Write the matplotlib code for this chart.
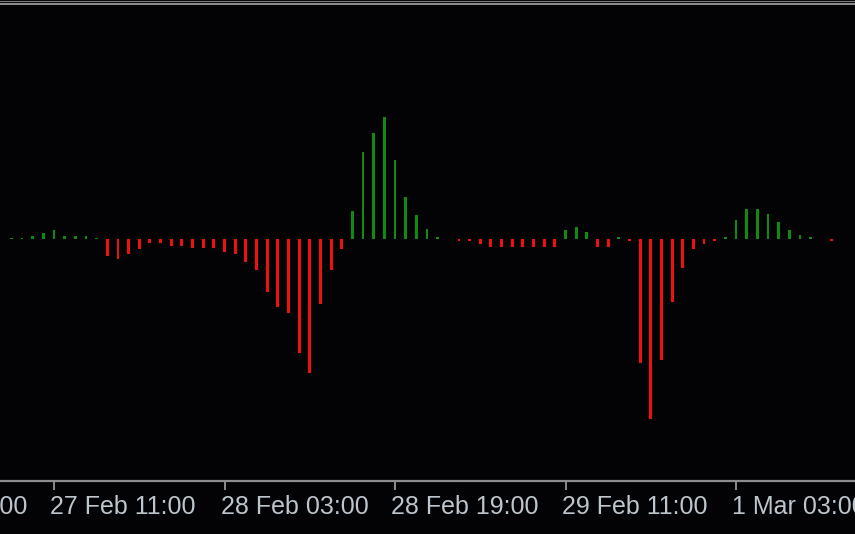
import matplotlib
matplotlib.use("Agg")
import matplotlib.pyplot as plt
from matplotlib.lines import Line2D
from matplotlib.transforms import ScaledTranslation

# Hourly bars starting 27 Feb 07:00 (index 0)
values = [
    1.5, 1.5, 3, 6, 9, 3, 3, 3, 1.5,
    -17, -20, -15, -10, -4, -4, -7, -7, -9, -9, -9,
    -13, -15, -23, -31, -53, -68, -74, -114, -134, -65, -31, -10,
    28, 87, 106, 122, 79, 42, 24, 10, 2,
    0, -2, -2, -5, -8, -8, -8, -8, -8, -8, -8,
    9, 12, 7, -8, -8, 2, -2,
    -124, -180, -121, -63, -29, -10, -5, -2,
    2, 19, 30, 30, 25, 17, 9, 4, 2,
    0, -2, 0,
]
tick_positions = [-12, 4, 20, 36, 52, 68]
tick_labels = ["26 Feb 19:00", "27 Feb 11:00", "28 Feb 03:00",
               "28 Feb 19:00", "29 Feb 11:00", "1 Mar 03:00"]

BG = "#030305"
GREEN = "#108a10"
RED = "#f01010"
GRAY = "#8c8c8c"
TXT = "#bcc4cc"

W, H, DPI = 855, 534, 100
fig = plt.figure(figsize=(W / DPI, H / DPI), dpi=DPI, facecolor=BG)

top_px, bot_px = 6, 481
ax = fig.add_axes([0, (H - bot_px) / H, 1, (bot_px - top_px) / H])
ax.set_facecolor(BG)

x0_px, step_px = 11.4, 10.656
ax.set_xlim(-x0_px / step_px, (W - x0_px) / step_px)
zero_px = 239.3
ax.set_ylim(-(bot_px - zero_px), zero_px - top_px)

xs = list(range(len(values)))
colors = [GREEN if v > 0 else RED for v in values]
ax.bar(xs, values, width=0.27, color=colors, linewidth=0)

for s in ["top", "left", "right"]:
    ax.spines[s].set_visible(False)
ax.spines["bottom"].set_color(GRAY)
ax.spines["bottom"].set_linewidth(1.6)
ax.set_yticks([])

ax.set_xticks([t for t in tick_positions if ax.get_xlim()[0] <= t <= ax.get_xlim()[1]])
ax.set_xticklabels([])
ax.tick_params(axis="x", direction="out", length=6.5, width=1.4, color=GRAY)

offset = ScaledTranslation(-4 / DPI, -14.5 / DPI, fig.dpi_scale_trans)
trans = ax.get_xaxis_transform() + offset
for pos, lab in zip(tick_positions, tick_labels):
    ax.text(pos, 0, lab, transform=trans, ha="left", va="top",
            color=TXT, fontsize=18, family="Liberation Sans", clip_on=False)

# window border lines at the top
fig.add_artist(Line2D([0, 1], [1 - 1.2 / H, 1 - 1.2 / H], transform=fig.transFigure,
                      color="#7a7a7a", linewidth=0.8))
fig.add_artist(Line2D([0, 1], [1 - 4.4 / H, 1 - 4.4 / H], transform=fig.transFigure,
                      color="#8a8a8a", linewidth=1.5))

fig.savefig("out.png", dpi=DPI, facecolor=BG)
